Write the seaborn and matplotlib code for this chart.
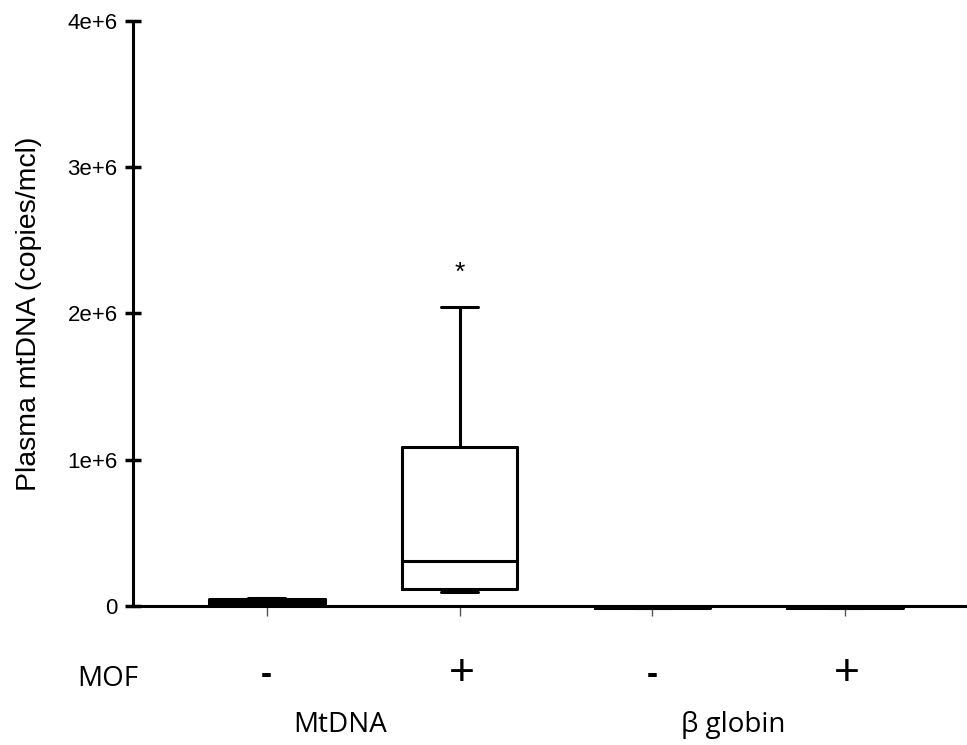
import numpy as np
import pandas as pd
import matplotlib
matplotlib.use('Agg')
import matplotlib.pyplot as plt
import seaborn as sns

# ─────────────────────────────────────────────
# DATA (five-number summaries, copies/mcl)
# ─────────────────────────────────────────────
groups = ['MtDNA -', 'MtDNA +', 'globin -', 'globin +']
mof_labels = ['-', '+', '-', '+']
group_names = ['MtDNA', 'β globin']

mtdna_neg = [0.005e6, 0.012e6, 0.030e6, 0.045e6, 0.058e6]
mtdna_pos = [0.095e6, 0.115e6, 0.310e6, 1.090e6, 2.047e6]
globin_neg = [-0.012e6, -0.011e6, -0.010e6, -0.009e6, -0.008e6]
globin_pos = [-0.012e6, -0.011e6, -0.010e6, -0.009e6, -0.008e6]

y_ticks = [0, 1e6, 2e6, 3e6, 4e6]
y_tick_labels = ['0', '1e+6', '2e+6', '3e+6', '4e+6']

rows = []
for g, vals in zip(groups, [mtdna_neg, mtdna_pos, globin_neg, globin_pos]):
    for v in vals:
        rows.append({'group': g, 'value': v})
df = pd.DataFrame(rows)

# ─────────────────────────────────────────────
# PLOT
# ─────────────────────────────────────────────
sns.set_style('white')
plt.rcParams['font.family'] = ['Liberation Sans', 'DejaVu Sans']
plt.rcParams['text.color'] = 'black'
plt.rcParams['axes.labelcolor'] = 'black'
plt.rcParams['ytick.color'] = 'black'
plt.rcParams['xtick.color'] = '#555555'

fig = plt.figure(figsize=(9.67, 7.45), dpi=100)
ax = fig.add_axes([0.1375, 0.1866, 0.8625, 0.7852])

lw = 2.2
sns.boxplot(data=df, x='group', y='value', order=groups, whis=(0, 100),
            width=0.6, fill=False, color='black', linewidth=lw, ax=ax,
            boxprops={'color': 'black', 'linewidth': lw},
            medianprops={'color': 'black', 'linewidth': lw},
            whiskerprops={'color': 'black', 'linewidth': lw},
            capprops={'color': 'black', 'linewidth': lw},
            capwidths=0.19)

ax.set_xlim(-0.694, 3.632)
ax.set_ylim(0, 4e6)
ax.set_yticks(y_ticks)
ax.set_yticklabels(y_tick_labels, fontsize=16)
ax.set_xticks(range(len(groups)))
ax.set_xticklabels([])
ax.set_xlabel('')
ax.set_ylabel('Plasma mtDNA (copies/mcl)', fontsize=20.5, labelpad=18)

for side in ['top', 'right']:
    ax.spines[side].set_visible(False)
for side in ['left', 'bottom']:
    ax.spines[side].set_linewidth(2.2)
    ax.spines[side].set_color('black')
ax.spines['bottom'].set_zorder(1)

ax.tick_params(axis='y', left=True, direction='inout', length=12, width=2.5,
               color='black', pad=5)
ax.tick_params(axis='x', bottom=True, direction='out', length=7, width=1,
               color='#555555')

for line in ax.lines + list(ax.patches):
    line.set_clip_on(False)

# MOF row and group labels
for i, lab in enumerate(mof_labels):
    if lab == '+':
        ax.annotate(lab, xy=(i, 0), xycoords='data', xytext=(2, -68),
                    textcoords='offset pixels', ha='center', va='center',
                    fontsize=32)
    else:
        ax.annotate(lab, xy=(i, 0), xycoords='data', xytext=(0, -70),
                    textcoords='offset pixels', ha='center', va='center',
                    fontsize=24, fontweight='bold')
ax.annotate('MOF', xy=(0.0, 0), xycoords=('figure fraction', 'data'),
            xytext=(108, -73), textcoords='offset pixels', ha='center',
            va='center', fontsize=20, family=['Open Sans', 'DejaVu Sans'])
for xpos, name in zip([0.38, 2.42], group_names):
    ax.annotate(name, xy=(xpos, 0), xycoords='data', xytext=(0, -119),
                textcoords='offset pixels', ha='center', va='center',
                fontsize=20, family=['Open Sans', 'DejaVu Sans'])

# significance marker
ax.text(1, 2.28e6, '*', ha='center', va='center', fontsize=19)

plt.savefig('out.png', dpi=100)
